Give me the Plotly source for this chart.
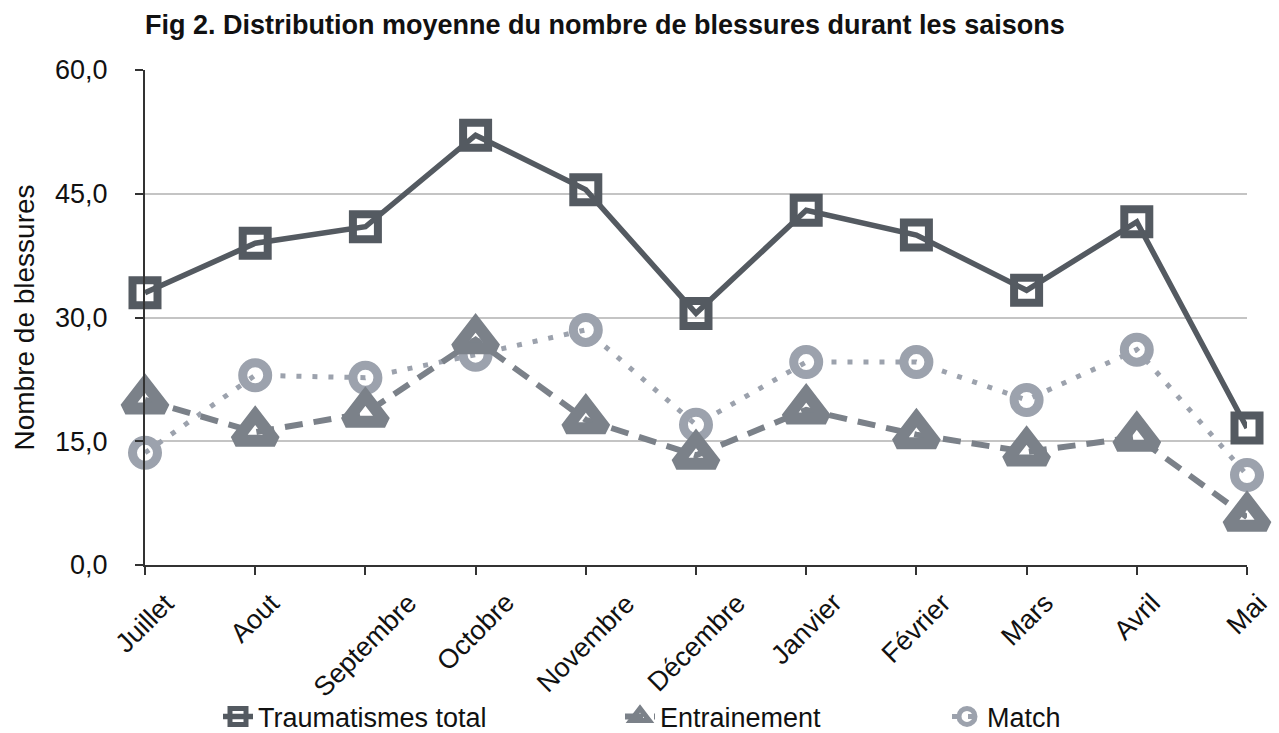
import plotly.graph_objects as go

months = ["Juillet", "Aout", "Septembre", "Octobre", "Novembre", "Décembre",
          "Janvier", "Février", "Mars", "Avril", "Mai"]
total = [33.0, 39.0, 41.0, 52.1, 45.5, 30.5, 43.0, 40.0, 33.3, 41.6, 16.6]
entrainement = [20.0, 16.1, 18.4, 27.3, 17.6, 13.3, 18.8, 15.8, 13.7, 15.5, 5.8]
match = [13.6, 23.0, 22.7, 25.5, 28.5, 17.0, 24.6, 24.6, 20.0, 26.1, 10.9]
yticks = [0, 15, 30, 45, 60]

c_total = "#545a61"
c_ent = "#7b8189"
c_match = "#9ca2ad"
FONT = "Liberation Sans, Arial, sans-serif"

fig = go.Figure()
fig.add_trace(go.Scatter(
    x=months, y=match, name="Match", mode="lines+markers",
    line=dict(color=c_match, width=5, dash="5px,11px"),
    marker=dict(symbol="circle-open", size=25, color=c_match, line=dict(width=9, color=c_match)),
    cliponaxis=False, legend="legend3"))
fig.add_trace(go.Scatter(
    x=months, y=entrainement, name="Entrainement", mode="lines+markers",
    line=dict(color=c_ent, width=6, dash="18px,11px"),
    marker=dict(symbol="triangle-up-open", size=34, color=c_ent, line=dict(width=12, color=c_ent)),
    cliponaxis=False, legend="legend2"))
fig.add_trace(go.Scatter(
    x=months, y=total, name="Traumatismes total", mode="lines+markers",
    line=dict(color=c_total, width=5.5),
    marker=dict(symbol="square-open", size=25, color=c_total, line=dict(width=8, color=c_total)),
    cliponaxis=False, legend="legend"))

# rotated month labels centred under each tick
for m in months:
    fig.add_annotation(x=m, xref="x", y=-20/495, yref="paper", text=m,
                       textangle=-45, xanchor="center", yanchor="top",
                       showarrow=False,
                       font=dict(size=27, family=FONT, color="#111111"))

leg_common = dict(orientation="h", xref="container", yref="container",
                  yanchor="middle", xanchor="left", y=0.022,
                  font=dict(family=FONT, size=27, color="#111111"),
                  bgcolor="rgba(0,0,0,0)", itemwidth=30)

fig.update_layout(
    width=1279, height=733, showlegend=True,
    paper_bgcolor="white", plot_bgcolor="white",
    margin=dict(l=145, r=32, t=70, b=168, autoexpand=False),
    font=dict(family=FONT, size=27, color="#111111"),
    title=dict(text="<b>Fig 2. Distribution moyenne du nombre de blessures durant les saisons</b>",
               x=145/1279, xanchor="left", y=1-25/733, yanchor="middle",
               font=dict(family=FONT, size=27, color="#111111")),
    legend=dict(**leg_common, x=218/1279),
    legend2=dict(**leg_common, x=620/1279),
    legend3=dict(**leg_common, x=947/1279),
    xaxis=dict(type="category", range=[0, len(months) - 1], showgrid=False,
               automargin=False, showticklabels=False,
               showline=True, linecolor="#333333", linewidth=2,
               ticks="outside", ticklen=8, tickwidth=2, tickcolor="#333333",
               zeroline=False),
    yaxis=dict(range=[0, 60], tickvals=yticks, tickformat=".1f",
               automargin=False,
               showgrid=True, gridcolor="#c4c4c4", gridwidth=2,
               showline=True, linecolor="#333333", linewidth=2,
               ticks="outside", ticklen=8, tickwidth=2, tickcolor="#333333",
               ticklabelstandoff=22,
               tickfont=dict(size=27, family=FONT, color="#111111"),
               title=dict(text="Nombre de blessures", standoff=12,
                          font=dict(size=28, family=FONT, color="#111111")),
               zeroline=False),
    separators=",.",
)

fig.write_html("out.html", config={"displayModeBar": False},
               post_script="document.body.style.margin='0';document.body.style.overflow='hidden';")
